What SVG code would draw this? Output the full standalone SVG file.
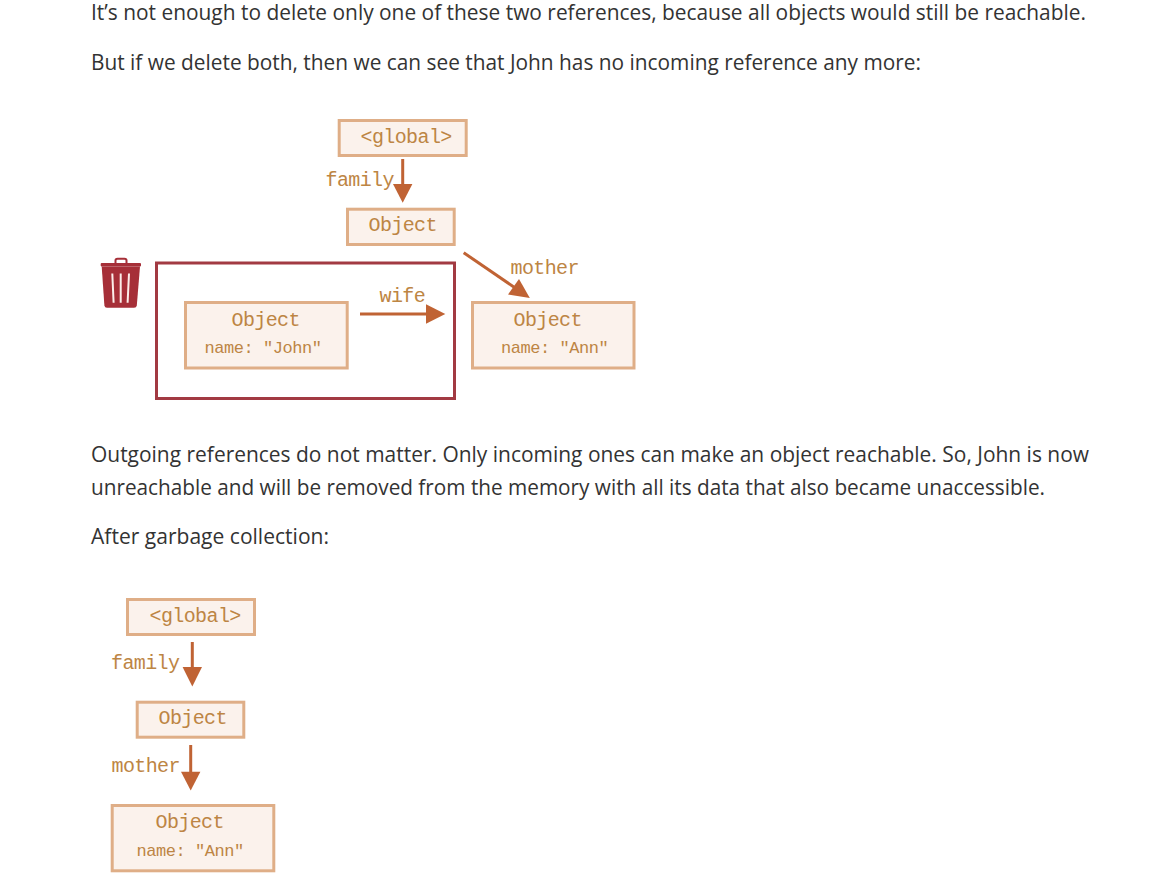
<svg xmlns="http://www.w3.org/2000/svg" width="1155" height="886" viewBox="0 0 1155 886">
<style>
.bg{fill:#fff}
.p{font-family:"Open Sans","Noto Sans",sans-serif;font-size:21px;fill:#333}
.n{fill:#fbf2ec;stroke:#dfae87;stroke-width:3}
.t{font-family:"Liberation Mono",monospace;font-size:20px;letter-spacing:-.6px;fill:#bd8544}
.s{font-family:"Liberation Mono",monospace;font-size:17px;letter-spacing:-.45px;fill:#bd8544}
.l{stroke:#c06334;stroke-width:3;fill:none}
.h{fill:#c06334}
</style>
<rect class="bg" width="1155" height="886"/>
<g id="prose">
<text class="p" x="91" y="20" textLength="995" lengthAdjust="spacingAndGlyphs">It’s not enough to delete only one of these two references, because all objects would still be reachable.</text>
<text class="p" x="91" y="70" textLength="830" lengthAdjust="spacingAndGlyphs">But if we delete both, then we can see that John has no incoming reference any more:</text>
<text class="p" x="91" y="462" textLength="998" lengthAdjust="spacingAndGlyphs">Outgoing references do not matter. Only incoming ones can make an object reachable. So, John is now</text>
<text class="p" x="91" y="495" textLength="954" lengthAdjust="spacingAndGlyphs">unreachable and will be removed from the memory with all its data that also became unaccessible.</text>
<text class="p" x="91" y="544" textLength="238" lengthAdjust="spacingAndGlyphs">After garbage collection:</text>
</g>
<g id="trash">
<path d="M101.7 266.500H140L136.800 305.500Q136.500 307.700 134 307.700H107Q104.700 307.700 104.400 305.500Z" fill="#a62f38"/>
<rect x="100.700" y="263" width="40.300" height="3.600" rx="1" fill="#a62f38"/>
<path d="M115.500 263.500V260.500Q115.500 258.800 117.500 258.800H124.500Q126.500 258.800 126.500 260.500V263.500" fill="none" stroke="#a62f38" stroke-width="2"/>
<path d="M112.300 273.500L113.600 302.700M120.700 273.500V302.700M129 273.500L127.600 302.700" stroke="#fbeeea" stroke-width="2" fill="none"/>
</g>
<g id="bin-frame"><rect x="156.500" y="263" width="298" height="135.500" fill="none" stroke="#a23a42" stroke-width="3"/></g>
<g id="connectors">
<path class="l" d="M402.700 159V186"/><path class="h" d="M393 184H412.400L402.700 202.800Z"/>
<path class="l" d="M463.700 252.700L516 288.500"/><path class="h" d="M519 279L508 294.500L529.800 298Z"/>
<path class="l" d="M360 314H428"/><path class="h" d="M426 304.300V323.700L445.300 314Z"/>
<path class="l" d="M192.300 642V669"/><path class="h" d="M182.600 667H202L192.300 686.500Z"/>
<path class="l" d="M190.700 745V773"/><path class="h" d="M181 771.700H200.400L190.700 790.500Z"/>
</g>
<g id="edge-labels">
<text class="t" x="325.500" y="186">family</text>
<text class="t" x="510.500" y="273.500">mother</text>
<text class="t" x="379.500" y="301.500">wife</text>
<text class="t" x="111" y="668.500">family</text>
<text class="t" x="111.500" y="771.500">mother</text>
</g>
<g id="global-1"><rect class="n" x="339.200" y="120.500" width="127" height="35"/><text class="t" x="360.500" y="142.500">&lt;global&gt;</text></g>
<g id="object-1"><rect class="n" x="347.500" y="209.200" width="106.700" height="35.300"/><text class="t" x="368.500" y="230.500">Object</text></g>
<g id="john"><rect class="n" x="185.500" y="302.500" width="161.700" height="65.500"/><text class="t" x="231.500" y="325.500">Object</text><text class="s" x="204.500" y="353">name: "John"</text></g>
<g id="ann-1"><rect class="n" x="472.500" y="302.500" width="161.500" height="65.500"/><text class="t" x="513.500" y="325.500">Object</text><text class="s" x="501" y="353">name: "Ann"</text></g>
<g id="global-2"><rect class="n" x="127.500" y="599.500" width="127" height="35"/><text class="t" x="149.500" y="621.500">&lt;global&gt;</text></g>
<g id="object-2"><rect class="n" x="137.200" y="702.200" width="106.600" height="35"/><text class="t" x="158.500" y="723.500">Object</text></g>
<g id="ann-2"><rect class="n" x="112.200" y="805.500" width="161.600" height="65.300"/><text class="t" x="155.500" y="827.500">Object</text><text class="s" x="136.500" y="856">name: "Ann"</text></g>
</svg>
